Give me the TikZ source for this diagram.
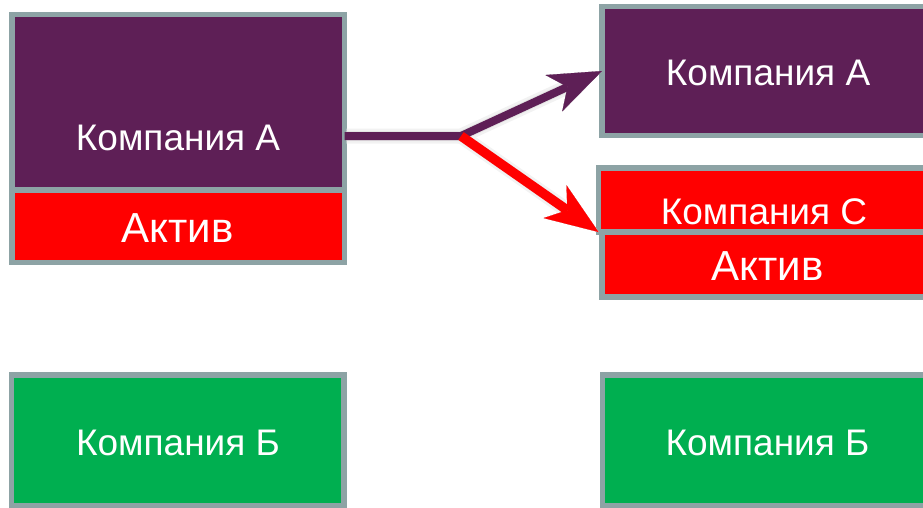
\documentclass[tikz,border=0pt]{standalone}
\usepackage{fontspec}
\setmainfont{Liberation Sans}
\usetikzlibrary{arrows.meta,calc}
\definecolor{plum}{HTML}{5E1F56}
\definecolor{frame}{HTML}{8DA3A5}
\definecolor{leaf}{HTML}{00AF50}
\definecolor{alarm}{HTML}{FF0000}
\tikzset{
  box/.style={draw=frame, line width=5.5pt, inner sep=0pt, outer sep=0pt, anchor=north west},
  lbl/.style={text=white, inner sep=0pt, anchor=base},
  nm/.style={font=\fontsize{37}{40}\selectfont},
  big/.style={font=\fontsize{42}{46}\selectfont},
  head/.style={-{Stealth[length=53pt,width=40pt,inset=15pt,line width=0.1pt]}},
  shade1/.style={draw=black!5, line width=15pt, head},
  shade2/.style={draw=black!10, line width=10pt, head},
  shade3/.style={draw=black!16, line width=6pt, head},
}
\begin{document}
\begin{tikzpicture}[x=1pt, y=-1pt]
  \useasboundingbox (0,0) rectangle (923,507);
  \clip (0,0) rectangle (923,507);

  % split point of the two connectors
  \coordinate (split) at (461,136);

  % boxes
  \node[box, fill=plum, minimum width=332.5pt, minimum height=175.5pt] (a1) at (12,14.5) {};
  \node[box, fill=alarm, minimum width=332.5pt, minimum height=72.5pt] (act1) at (12,190) {};
  \node[box, fill=plum, minimum width=340pt, minimum height=129pt] (a2) at (602,6.5) {};
  \node[box, fill=alarm, minimum width=343pt, minimum height=64pt] (c) at (598.5,168) {};
  \node[box, fill=alarm, minimum width=340pt, minimum height=65pt] (act2) at (602,232) {};
  \node[box, fill=leaf, minimum width=332.5pt, minimum height=131pt] (b1) at (11.5,375) {};
  \node[box, fill=leaf, minimum width=340pt, minimum height=131pt] (b2) at (602.5,375) {};

  % soft shadows of the connectors
  \begin{scope}[shift={(3,5)}]
    \foreach \s in {shade1,shade2,shade3} {
      \draw[\s] ($(a1.east |- split)+(2,0)$) -- (split) -- (a2.west);
      \draw[\s] (split) -- (c.south west);
    }
  \end{scope}

  % connectors
  \draw[draw=plum, line width=8pt, head] (a1.east |- split) -- (split) -- (a2.west);
  \draw[draw=alarm, line width=9.5pt, head] (split) -- (c.south west);

  % labels
  \node[lbl, nm] (ta1) at (178,150) {Компания А};
  \node[lbl, big] (tact1) at (177.5,242) {Актив};
  \node[lbl, nm] (ta2) at (768,85) {Компания А};
  \node[lbl, nm] (tc) at (764,224) {Компания С};
  \node[lbl, big] (tact2) at (767.5,280) {Актив};
  \node[lbl, nm] (tb1) at (178,455) {Компания Б};
  \node[lbl, nm] (tb2) at (767.5,455) {Компания Б};
\end{tikzpicture}
\end{document}
